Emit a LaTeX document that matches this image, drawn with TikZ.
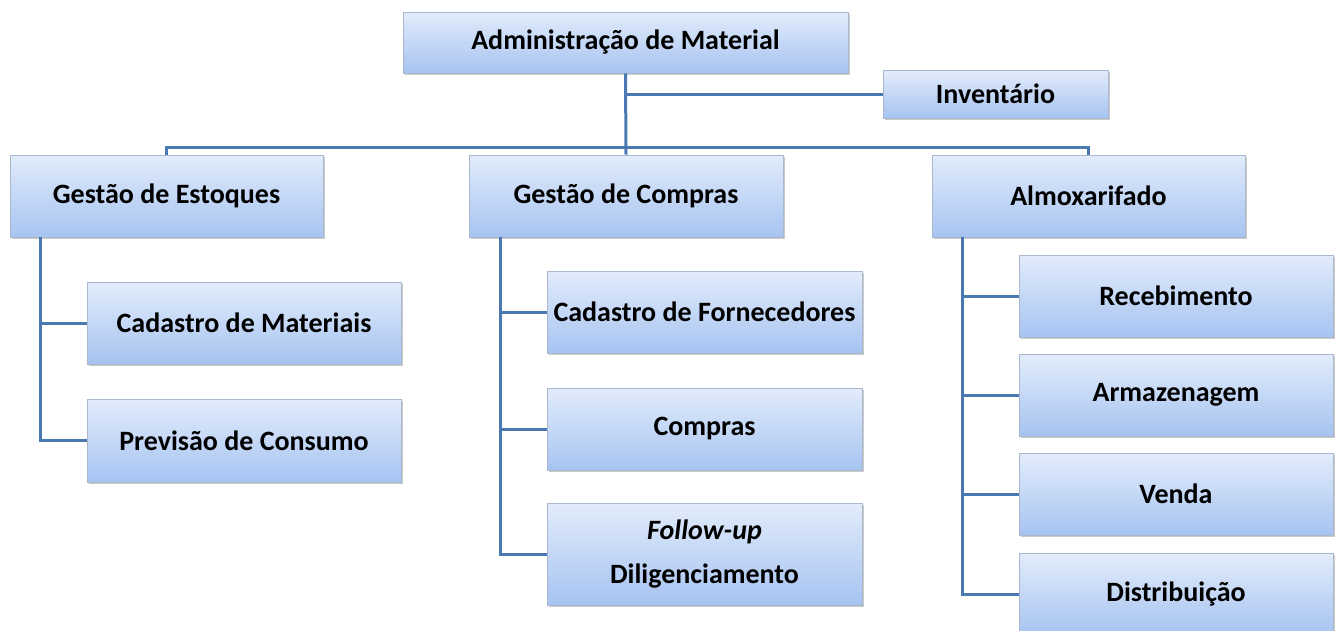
\documentclass[tikz,border=0pt]{standalone}
\usepackage{fontspec}
\setmainfont{Carlito}
\usetikzlibrary{shadows}
\definecolor{boxtop}{HTML}{E2ECFB}
\definecolor{boxbot}{HTML}{A6C3F1}
\definecolor{boxedge}{HTML}{A9B8CC}
\definecolor{conncol}{HTML}{4A78B0}
\tikzset{
  box/.style={rectangle, draw=boxedge, line width=0.8pt, top color=boxtop, bottom color=boxbot,
    inner sep=0pt, align=center, font=\fontsize{28}{44}\selectfont\bfseries,
    drop shadow={shadow xshift=1.5pt, shadow yshift=-2pt, opacity=0.35, fill=black!60}},
  conn/.style={draw=conncol, line width=3pt}
}
\begin{document}
\begin{tikzpicture}[x=1pt,y=-1pt]
\useasboundingbox (0,0) rectangle (1336,630);
\begin{scope}
\clip (0,0) rectangle (1336,630);
% top
\node[box, minimum width=445pt, minimum height=61pt] (adm) at (625.5,42.5) {Administração de Material};
\node[box, minimum width=225pt, minimum height=48pt] (inv) at (995.5,94) {Inventário};
% second level
\node[box, minimum width=313pt, minimum height=82pt] (ge) at (166.5,196) {Gestão de Estoques};
\node[box, minimum width=314pt, minimum height=82pt] (gc) at (626,196) {Gestão de Compras};
\node[box, minimum width=313pt, minimum height=82pt] (alm) at (1088.5,196) {Almoxarifado};
% estoques children
\node[box, minimum width=314pt, minimum height=82pt] (cm) at (244,323) {Cadastro de Materiais};
\node[box, minimum width=314pt, minimum height=83pt] (pc) at (244,440.5) {Previsão de Consumo};
% compras children
\node[box, minimum width=315pt, minimum height=82pt] (cf) at (704.5,312) {Cadastro de Fornecedores};
\node[box, minimum width=315pt, minimum height=82pt] (cp) at (704.5,429) {Compras};
\node[box, minimum width=315pt, minimum height=102pt] (fu) at (704.5,554) {\textit{Follow-up}\\Diligenciamento};
% almoxarifado children
\node[box, minimum width=314pt, minimum height=82pt] (rec) at (1176,296) {Recebimento};
\node[box, minimum width=314pt, minimum height=82pt] (arm) at (1176,395) {Armazenagem};
\node[box, minimum width=314pt, minimum height=82pt] (ven) at (1176,494) {Venda};
\node[box, minimum width=314pt, minimum height=82pt] (dis) at (1176,594) {Distribuição};
% connectors
\coordinate (bus) at (626,147);
\draw[conn] (adm.south) -- (gc.north);
\draw[conn] (adm.south |- inv.west) -- (inv.west);
\draw[conn] (ge.north) |- (bus) -| (alm.north);
\coordinate (gev) at ([xshift=31pt]ge.south west);
\draw[conn] (gev) |- (pc.west);
\draw[conn] (gev |- cm.west) -- (cm.west);
\coordinate (gcv) at ([xshift=32pt]gc.south west);
\draw[conn] (gcv) |- (fu.west);
\draw[conn] (gcv |- cf.west) -- (cf.west);
\draw[conn] (gcv |- cp.west) -- (cp.west);
\coordinate (almv) at ([xshift=31pt]alm.south west);
\draw[conn] (almv) |- (dis.west);
\draw[conn] (almv |- rec.west) -- (rec.west);
\draw[conn] (almv |- arm.west) -- (arm.west);
\draw[conn] (almv |- ven.west) -- (ven.west);
\end{scope}
\end{tikzpicture}
\end{document}
